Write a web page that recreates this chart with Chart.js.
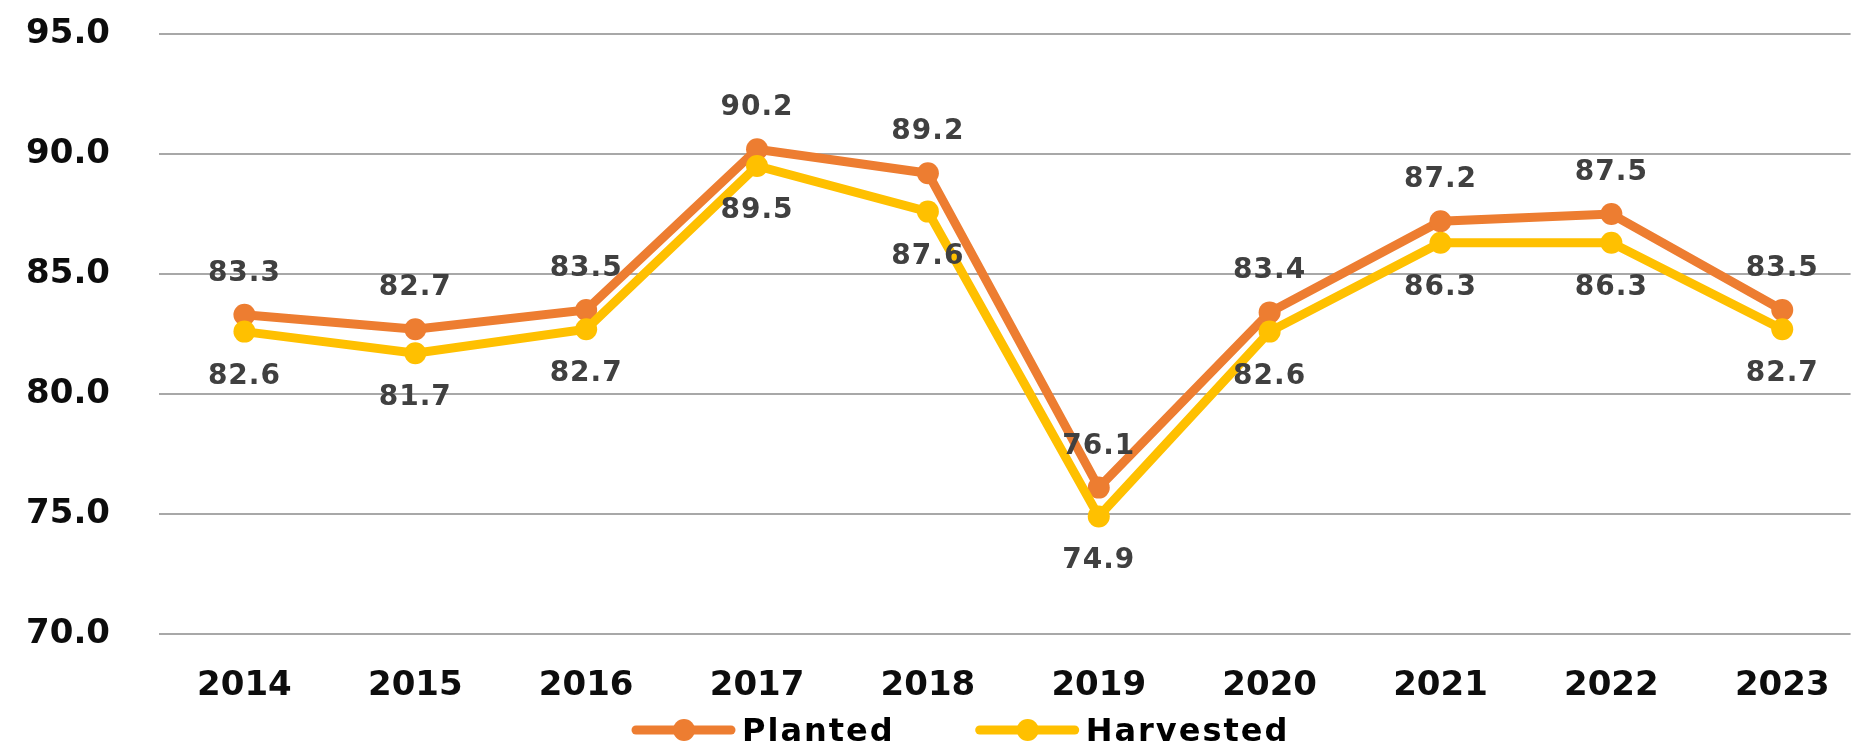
<!DOCTYPE html>
<html>
<head>
<meta charset="utf-8">
<script src="https://cdn.jsdelivr.net/npm/chart.js@4.4.0/dist/chart.umd.min.js"></script>
<style>
  html, body { margin: 0; padding: 0; background: #fff; }
  canvas { display: block; }
</style>
</head>
<body>
<canvas id="myChart" width="1862" height="745"></canvas>
<script>
  const years = [2014, 2015, 2016, 2017, 2018, 2019, 2020, 2021, 2022, 2023];
  const planted = [83.3, 82.7, 83.5, 90.2, 89.2, 76.1, 83.4, 87.2, 87.5, 83.5];
  const harvested = [82.6, 81.7, 82.7, 89.5, 87.6, 74.9, 82.6, 86.3, 86.3, 82.7];
  const yTicks = [70, 75, 80, 85, 90, 95];

  const FONT = "'DejaVu Sans', Verdana, sans-serif";

  // value labels: planted above the point, harvested below
  const valueLabels = {
    id: "valueLabels",
    afterDatasetsDraw(chart) {
      const ctx = chart.ctx;
      ctx.save();
      ctx.font = "bold 28px " + FONT;
      ctx.letterSpacing = "1px";
      ctx.fillStyle = "#404040";
      ctx.textAlign = "center";
      ctx.textBaseline = "alphabetic";
      chart.data.datasets.forEach((ds, di) => {
        const meta = chart.getDatasetMeta(di);
        const shift = di === 0 ? -44 : 42;
        meta.data.forEach((pt, i) => {
          ctx.fillText(ds.data[i].y.toFixed(1), pt.x, pt.y + shift + 10);
        });
      });
      ctx.restore();
    },
  };

  // line + marker legend like the office chart
  const lineLegend = {
    id: "lineLegend",
    afterDraw(chart) {
      const ctx = chart.ctx;
      const y = 730;
      let x = 632;
      ctx.save();
      ctx.font = "bold 32px " + FONT;
      ctx.letterSpacing = "2px";
      ctx.textAlign = "left";
      ctx.textBaseline = "alphabetic";
      chart.data.datasets.forEach((ds) => {
        ctx.strokeStyle = ds.borderColor;
        ctx.lineWidth = 9;
        ctx.lineCap = "round";
        ctx.beginPath();
        ctx.moveTo(x + 4, y);
        ctx.lineTo(x + 99, y);
        ctx.stroke();
        ctx.fillStyle = ds.borderColor;
        ctx.beginPath();
        ctx.arc(x + 52, y, 11, 0, Math.PI * 2);
        ctx.fill();
        ctx.fillStyle = "#000";
        ctx.fillText(ds.label, x + 110, y + 11);
        x += 110 + ctx.measureText(ds.label).width + 81;
      });
      ctx.restore();
    },
  };

  const tickFont = { family: FONT, weight: "bold", size: 34 };

  new Chart(document.getElementById("myChart"), {
    type: "line",
    data: {
      datasets: [
        {
          label: "Planted",
          data: years.map((yr, i) => ({ x: yr, y: planted[i] })),
          borderColor: "#ED7D31",
          backgroundColor: "#ED7D31",
          pointBackgroundColor: "#ED7D31",
          borderWidth: 9,
          pointRadius: 11,
          pointBorderWidth: 0,
          order: 2,
        },
        {
          label: "Harvested",
          data: years.map((yr, i) => ({ x: yr, y: harvested[i] })),
          borderColor: "#FFC000",
          backgroundColor: "#FFC000",
          pointBackgroundColor: "#FFC000",
          borderWidth: 9,
          pointRadius: 11,
          pointBorderWidth: 0,
          order: 1,
        },
      ],
    },
    options: {
      responsive: false,
      animation: false,
      layout: { padding: { top: 34, left: 0, right: 0, bottom: 0 } },
      plugins: {
        legend: { display: false },
        tooltip: { enabled: false },
      },
      scales: {
        x: {
          type: "linear",
          min: 2013.5,
          max: 2023.4,
          afterBuildTicks: (s) => {
            s.ticks = years.map((v) => ({ value: v }));
          },
          afterFit: (s) => {
            s.height = 111;
          },
          grid: { display: false, drawTicks: false },
          border: { display: false },
          ticks: {
            padding: 32,
            color: "#0d0d0d",
            font: tickFont,
            maxRotation: 0,
            autoSkip: false,
            callback: (v) => String(v),
          },
        },
        y: {
          min: 70,
          max: 95,
          afterBuildTicks: (s) => {
            s.ticks = yTicks.map((v) => ({ value: v }));
          },
          afterFit: (s) => {
            s.width = 159;
            s.paddingTop = 0;
            s.paddingBottom = 0;
          },
          grid: { color: "#a8a8a8", lineWidth: 2, drawTicks: false },
          border: { display: false },
          ticks: {
            padding: 49,
            color: "#0d0d0d",
            font: tickFont,
            callback: (v) => v.toFixed(1),
          },
        },
      },
    },
    plugins: [valueLabels, lineLegend],
  });
</script>
</body>
</html>
